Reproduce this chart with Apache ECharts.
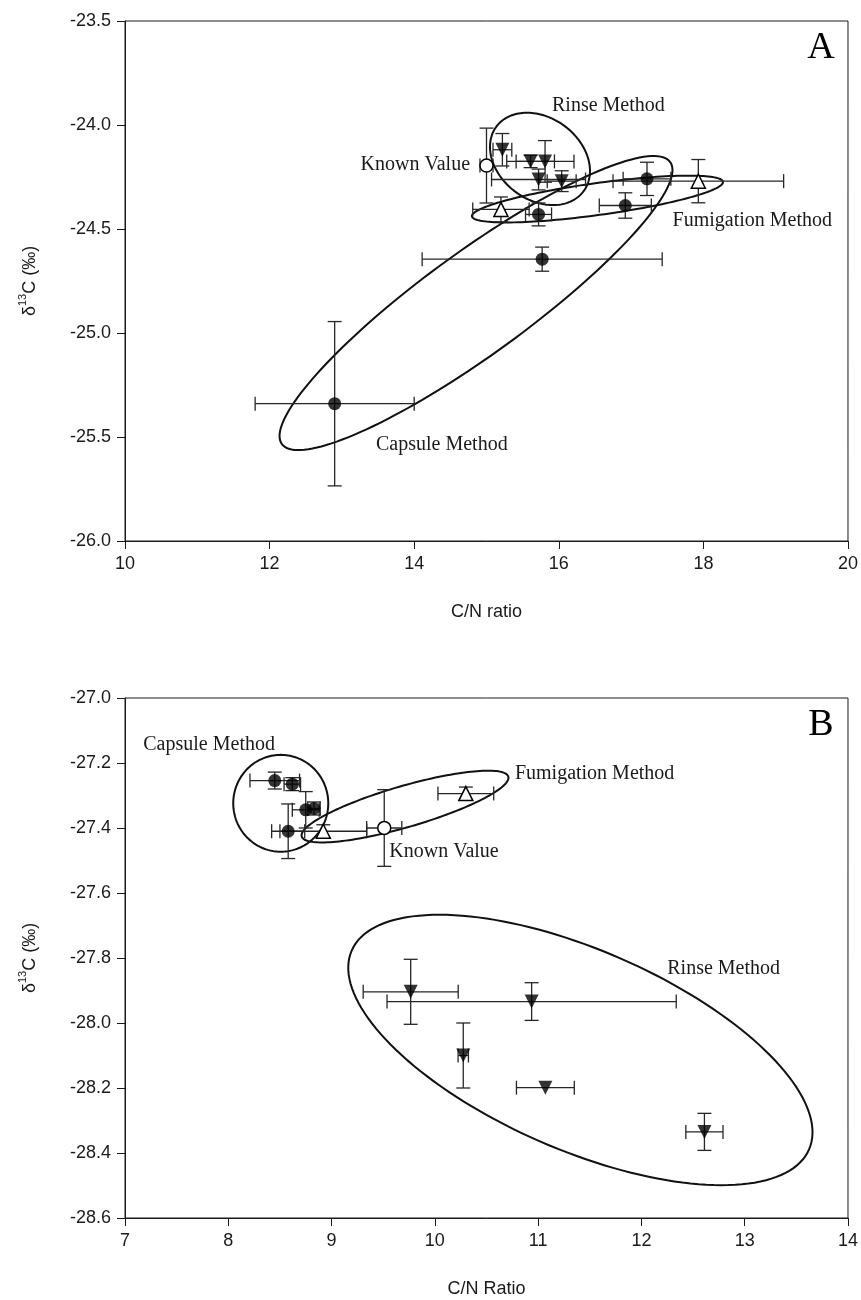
<!DOCTYPE html>
<html>
<head>
<meta charset="utf-8">
<script src="https://cdn.jsdelivr.net/npm/echarts@6/dist/echarts.min.js"></script>
<style>
  html, body { margin: 0; padding: 0; background: #fff; }
  #chart { width: 861px; height: 1300px; }
</style>
</head>
<body>
<div id="chart"></div>
<script>
  // panel A  -- each point: [C/N, d13C, C/N error, d13C error]
  var aCapsule = [[12.90, -25.34, 1.10, 0.395], [15.77, -24.645, 1.66, 0.058], [15.72, -24.43, 0.18, 0.055], [16.92, -24.387, 0.36, 0.061], [17.22, -24.259, 0.33, 0.08]]
  var aRinse = [[15.22, -24.119, 0.13, 0.078], [15.61, -24.175, 0.33, 0.03], [15.81, -24.175, 0.40, 0.10], [15.72, -24.262, 0.65, 0.05], [16.04, -24.27, 0.20, 0.05]]
  var aFumigation = [[15.20, -24.406, 0.39, 0.06], [17.93, -24.27, 1.18, 0.104]]
  var aKnown = [[15.00, -24.195, 0.09, 0.18]]
  // ellipses: [centre x, centre y, axis end 1 x, y, axis end 2 x, y]
  var aEllipses = [[14.855, -24.856, 17.54, -24.178, 15.274, -25.056], [15.74, -24.163, 16.346, -24.317, 15.407, -24.323], [16.535, -24.356, 18.271, -24.273, 16.566, -24.432]]
  var aNotes = [['Rinse Method', 15.906, -23.909, 'left'], ['Known Value', 14.772, -24.189, 'right'], ['Fumigation Method', 17.574, -24.462, 'left'], ['Capsule Method', 13.472, -25.535, 'left']]
  var aXTicks = [10, 20, 2]
  var aYTicks = [-26.0, -23.5, 0.5]

  // panel B
  var bCapsule = [[8.45, -27.254, 0.24, 0.026], [8.62, -27.265, 0.08, 0.02], [8.75, -27.344, 0.13, 0.056], [8.83, -27.34, 0.06, 0.02], [8.58, -27.41, 0.16, 0.084]]
  var bRinse = [[9.766, -27.904, 0.46, 0.10], [10.937, -27.934, 1.40, 0.058], [10.275, -28.10, 0.05, 0.10], [11.07, -28.199, 0.28, 0], [12.61, -28.335, 0.18, 0.057]]
  var bFumigation = [[8.92, -27.41, 0.42, 0.02], [10.30, -27.294, 0.27, 0.02]]
  var bKnown = [[9.51, -27.40, 0.17, 0.118]]
  var bEllipses = [[8.508, -27.324, 8.968, -27.324, 8.508, -27.473], [9.711, -27.334, 10.711, -27.242, 9.766, -27.395], [11.409, -28.083, 13.623, -28.389, 11.023, -28.365]]
  var bNotes = [['Capsule Method', 7.177, -27.145, 'left'], ['Fumigation Method', 10.775, -27.232, 'left'], ['Known Value', 9.559, -27.473, 'left'], ['Rinse Method', 12.25, -27.832, 'left']]
  var bXTicks = [7, 14, 1]
  var bYTicks = [-28.6, -27.0, 0.2]

  var panelLetters = [['A', 19.627, -23.632], ['B', 13.738, -27.083]]
  var ink = '#1a1a1a'
  var serif = '"Liberation Serif", "Times New Roman", serif'
  var sans = '"Liberation Sans", Arial, sans-serif'

  function renderErr(params, api) {
    var x = api.value(0), y = api.value(1), xe = api.value(2), ye = api.value(3)
    var cap = 7
    var st = {stroke: '#262626', lineWidth: 1.3}
    var kids = []
    if (xe > 0) {
      var l = api.coord([x - xe, y]), r = api.coord([x + xe, y])
      kids.push({type: 'line', shape: {x1: l[0], y1: l[1], x2: r[0], y2: r[1]}, style: st})
      kids.push({type: 'line', shape: {x1: l[0], y1: l[1] - cap, x2: l[0], y2: l[1] + cap}, style: st})
      kids.push({type: 'line', shape: {x1: r[0], y1: r[1] - cap, x2: r[0], y2: r[1] + cap}, style: st})
    }
    if (ye > 0) {
      var t = api.coord([x, y + ye]), b = api.coord([x, y - ye])
      kids.push({type: 'line', shape: {x1: t[0], y1: t[1], x2: b[0], y2: b[1]}, style: st})
      kids.push({type: 'line', shape: {x1: t[0] - cap, y1: t[1], x2: t[0] + cap, y2: t[1]}, style: st})
      kids.push({type: 'line', shape: {x1: b[0] - cap, y1: b[1], x2: b[0] + cap, y2: b[1]}, style: st})
    }
    return {type: 'group', children: kids}
  }

  function renderEllipse(params, api) {
    var c = api.coord([api.value(0), api.value(1)])
    var p = api.coord([api.value(2), api.value(3)])
    var q = api.coord([api.value(4), api.value(5)])
    var pts = []
    for (var i = 0; i < 160; i++) {
      var t = i / 160 * Math.PI * 2
      pts.push([c[0] + (p[0] - c[0]) * Math.cos(t) + (q[0] - c[0]) * Math.sin(t),
        c[1] + (p[1] - c[1]) * Math.cos(t) + (q[1] - c[1]) * Math.sin(t)])
    }
    return {type: 'polygon', shape: {points: pts}, style: {fill: 'none', stroke: '#111', lineWidth: 2}}
  }

  function noteSeries(notes, idx) {
    return {
      type: 'custom', xAxisIndex: idx, yAxisIndex: idx, z: 5,
      data: notes.map(function (n) { return [n[1], n[2]] }),
      renderItem: function (params, api) {
        var n = notes[params.dataIndex]
        var pt = api.coord([api.value(0), api.value(1)])
        return {type: 'text', x: pt[0], y: pt[1],
          style: {text: n[0], fill: ink, font: '20px ' + serif, textAlign: n[3], textVerticalAlign: 'middle'}}
      }
    }
  }

  function groupSeries(arr, idx, symbol, filled) {
    return [
      {type: 'custom', xAxisIndex: idx, yAxisIndex: idx, z: 3, renderItem: renderErr, data: arr},
      {
        type: 'scatter', xAxisIndex: idx, yAxisIndex: idx, z: 4,
        symbol: symbol === 'down' ? 'triangle' : symbol,
        symbolRotate: symbol === 'down' ? 180 : 0,
        symbolSize: symbol === 'circle' ? 13 : 14,
        itemStyle: filled ? {color: '#000'} : {color: '#fff', borderColor: '#000', borderWidth: 1.5, opacity: 1},
        data: arr.map(function (d) { return [d[0], d[1]] })
      }
    ]
  }

  function xAxisOf(ticks, idx, name) {
    return {
      type: 'value', gridIndex: idx, min: ticks[0], max: ticks[1], interval: ticks[2],
      name: name, nameLocation: 'middle', nameGap: 62,
      nameTextStyle: {fontFamily: sans, fontSize: 18, color: ink},
      axisLine: {lineStyle: {color: ink, width: 1}},
      axisTick: {length: 8, lineStyle: {color: ink}},
      axisLabel: {fontFamily: sans, fontSize: 18, color: ink, margin: 14},
      splitLine: {show: false}
    }
  }

  function yAxisOf(ticks, idx) {
    return {
      type: 'value', gridIndex: idx, min: ticks[0], max: ticks[1], interval: ticks[2],
      name: '{a|δ}{s|13}{a|C (‰)}', nameLocation: 'middle', nameGap: 86, nameRotate: 90,
      nameTextStyle: {
        color: ink,
        rich: {
          a: {fontFamily: sans, fontSize: 18, color: ink, lineHeight: 22, verticalAlign: 'bottom'},
          s: {fontFamily: sans, fontSize: 11, color: ink, lineHeight: 22, verticalAlign: 'top'}
        }
      },
      axisLine: {lineStyle: {color: ink, width: 1}},
      axisTick: {length: 8, lineStyle: {color: ink}},
      axisLabel: {fontFamily: sans, fontSize: 18, color: ink, margin: 14,
        formatter: function (v) { return v.toFixed(1) }},
      splitLine: {show: false}
    }
  }

  var chart = echarts.init(document.getElementById('chart'))
  var series = []
  series.push({type: 'custom', xAxisIndex: 0, yAxisIndex: 0, z: 2, renderItem: renderEllipse, data: aEllipses, encode: {x: 0, y: 1}})
  series.push({type: 'custom', xAxisIndex: 1, yAxisIndex: 1, z: 2, renderItem: renderEllipse, data: bEllipses, encode: {x: 0, y: 1}})
  series = series.concat(groupSeries(aCapsule, 0, 'circle', true), groupSeries(aRinse, 0, 'down', true),
    groupSeries(aFumigation, 0, 'triangle', false), groupSeries(aKnown, 0, 'circle', false))
  series = series.concat(groupSeries(bCapsule, 1, 'circle', true), groupSeries(bRinse, 1, 'down', true),
    groupSeries(bFumigation, 1, 'triangle', false), groupSeries(bKnown, 1, 'circle', false))
  series.push(noteSeries(aNotes, 0), noteSeries(bNotes, 1))
  panelLetters.forEach(function (p, i) {
    series.push({
      type: 'custom', xAxisIndex: i, yAxisIndex: i, z: 5, data: [[p[1], p[2]]],
      renderItem: function (params, api) {
        var pt = api.coord([api.value(0), api.value(1)])
        return {type: 'text', x: pt[0], y: pt[1],
          style: {text: p[0], fill: '#000', font: '38px ' + serif, textAlign: 'center', textVerticalAlign: 'middle'}}
      }
    })
  })

  chart.setOption({
    animation: false,
    backgroundColor: '#fff',
    grid: [
      {left: 125, top: 21, width: 723, height: 520, show: true, borderColor: ink, borderWidth: 1, backgroundColor: 'transparent'},
      {left: 125, top: 698, width: 723, height: 520, show: true, borderColor: ink, borderWidth: 1, backgroundColor: 'transparent'}
    ],
    xAxis: [xAxisOf(aXTicks, 0, 'C/N ratio'), xAxisOf(bXTicks, 1, 'C/N Ratio')],
    yAxis: [yAxisOf(aYTicks, 0), yAxisOf(bYTicks, 1)],
    series: series
  })
</script>
</body>
</html>
